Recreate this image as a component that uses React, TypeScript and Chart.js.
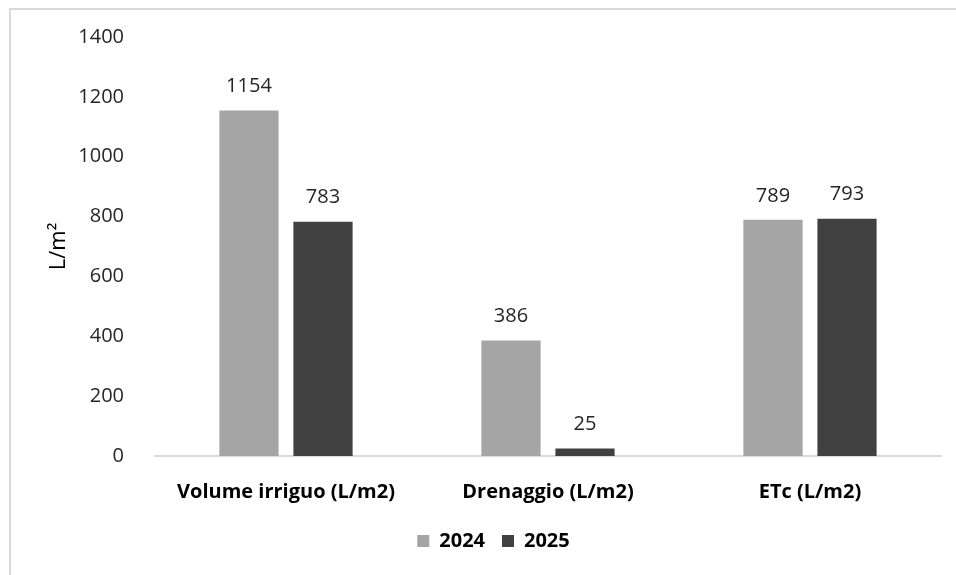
import React, { useEffect, useRef } from "react";
import { Chart, registerables } from "chart.js";

Chart.register(...registerables);

const categories = ["Volume irriguo (L/m2)", "Drenaggio (L/m2)", "ETc (L/m2)"];
const seriesNames = ["2024", "2025"];
const values2024 = [1154, 386, 789];
const values2025 = [783, 25, 793];
const seriesColors = ["#A5A5A5", "#404040"];
const yTitle = "L/m²";
const yMin = 0;
const yMax = 1400;
const yStep = 200;

const FONT = "'Open Sans', 'Noto Sans', sans-serif";

const valueLabels = {
  id: "valueLabels",
  afterDatasetsDraw(chart: any) {
    const ctx = chart.ctx;
    ctx.save();
    ctx.font = `20px ${FONT}`;
    ctx.fillStyle = "#262626";
    ctx.textAlign = "center";
    ctx.textBaseline = "middle";
    chart.data.datasets.forEach((ds: any, di: number) => {
      const meta = chart.getDatasetMeta(di);
      meta.data.forEach((bar: any, i: number) => {
        ctx.fillText(String(ds.data[i]), bar.x, bar.y - 24);
      });
    });
    ctx.restore();
  },
};

export default function App() {
  const ref = useRef<HTMLCanvasElement | null>(null);
  useEffect(() => {
    if (!ref.current) return;
    const chart = new Chart(ref.current, {
      type: "bar",
      data: {
        labels: categories,
        datasets: [
          { label: seriesNames[0], data: values2024, backgroundColor: seriesColors[0] },
          { label: seriesNames[1], data: values2025, backgroundColor: seriesColors[1] },
        ],
      },
      options: {
        animation: false,
        responsive: false,
        maintainAspectRatio: false,
        layout: { padding: { left: 46, right: 15, top: 37, bottom: 14 } },
        datasets: {
          bar: { categoryPercentage: 0.565, barPercentage: 0.8 },
        },
        plugins: {
          tooltip: { enabled: false },
          legend: {
            position: "bottom",
            labels: {
              boxWidth: 12,
              boxHeight: 12,
              padding: 17,
              color: "#000000",
              font: { family: FONT, size: 20, weight: "bold" },
            },
          },
        },
        scales: {
          x: {
            grid: { display: false },
            border: { display: true, color: "#D9D9D9", width: 2 },
            ticks: {
              padding: 16,
              color: "#000000",
              font: { family: FONT, size: 20, weight: "bold" },
              maxRotation: 0,
            },
            afterFit(scale: any) {
              scale.height = 58;
            },
          },
          y: {
            min: yMin,
            max: yMax,
            grid: { display: false },
            border: { display: false },
            ticks: {
              stepSize: yStep,
              padding: 23,
              color: "#262626",
              font: { family: FONT, size: 20 },
              callback: (v: any) => String(v),
            },
            title: {
              display: true,
              text: yTitle,
              color: "#000000",
              padding: 0,
              font: { family: FONT, size: 22 },
            },
            afterFit(scale: any) {
              scale.width = 109;
            },
          },
        },
      },
      plugins: [valueLabels],
    });
    return () => chart.destroy();
  }, []);
  return (
    <div style={{ position: "fixed", left: 0, top: 0, width: 956, height: 575, background: "#fff" }}>
      <div
        style={{
          position: "absolute",
          left: 9,
          top: 8,
          width: 980,
          height: 600,
          border: "2px solid #D9D9D9",
          boxSizing: "border-box",
        }}
      />
      <canvas ref={ref} width={956} height={575} style={{ position: "absolute", left: 0, top: 0 }} />
    </div>
  );
}
